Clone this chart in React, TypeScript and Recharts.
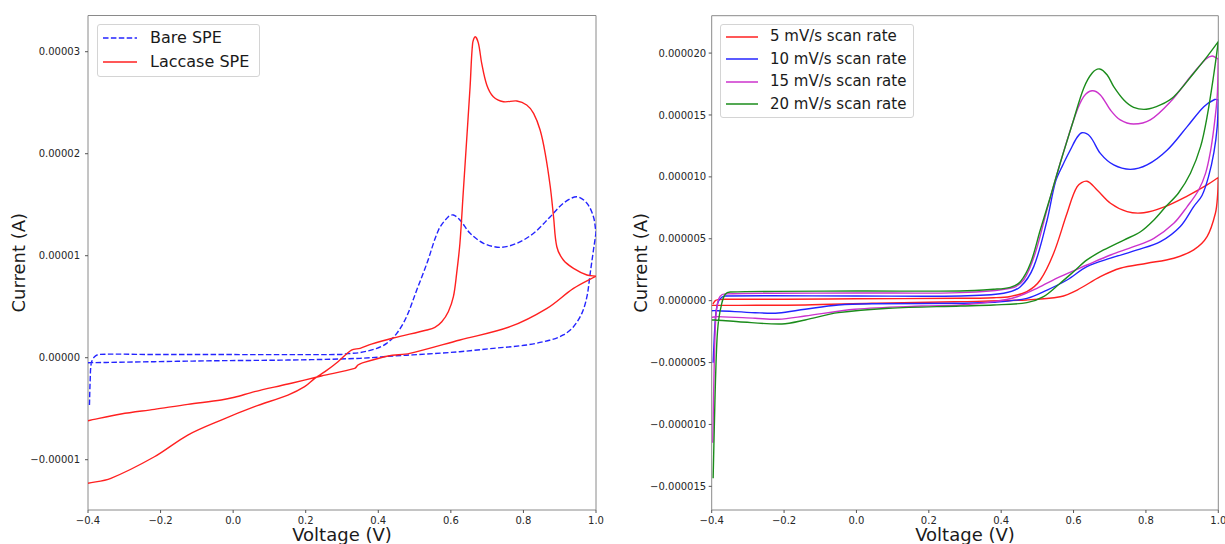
import { LineChart, Line, XAxis, YAxis, Legend, ReferenceArea } from 'recharts';

const FONT = '"DejaVu Sans", Verdana, sans-serif';

const VOLT_TICKS = [-0.4, -0.2, 0, 0.2, 0.4, 0.6, 0.8, 1.0];
const LEFT_CURRENT_TICKS = [-0.00001, 0, 0.00001, 0.00002, 0.00003];
const RIGHT_CURRENT_TICKS = [-0.000015, -0.00001, -0.000005, 0, 0.000005, 0.00001, 0.000015, 0.00002];

const VOLT_DOMAIN = [-0.4, 1.0];
const LEFT_DOMAIN = [-0.00001493, 0.00003355];
const RIGHT_DOMAIN = [-0.00001691, 0.00002302];

// [voltage (V), current (x1e-5 A)]
const bareSpe = [
  [-0.396, -0.464], [-0.394, -0.22], [-0.391, -0.055], [-0.382, 0.01], [-0.368, 0.033],
  [-0.217, 0.031], [-0.033, 0.031], [0.151, 0.03], [0.297, 0.032], [0.316, 0.04],
  [0.35, 0.05], [0.396, 0.092], [0.423, 0.141], [0.451, 0.239], [0.478, 0.402],
  [0.506, 0.664], [0.534, 0.925], [0.566, 1.252], [0.593, 1.382], [0.607, 1.399],
  [0.625, 1.35], [0.653, 1.22], [0.69, 1.122], [0.736, 1.082], [0.782, 1.122],
  [0.828, 1.22], [0.874, 1.382], [0.91, 1.514], [0.947, 1.578], [0.975, 1.514],
  [0.993, 1.382], [1.0, 1.223], [0.993, 1.056], [0.984, 0.827], [0.975, 0.598],
  [0.961, 0.435], [0.938, 0.304], [0.91, 0.223], [0.874, 0.174], [0.809, 0.125],
  [0.717, 0.092], [0.625, 0.059], [0.534, 0.036], [0.441, 0.017], [0.35, -0.006],
  [0.151, -0.023], [-0.033, -0.029], [-0.217, -0.039], [-0.4, -0.049],
];

const laccaseSpe = [
  [-0.4, -1.231], [-0.337, -1.182], [-0.217, -0.971], [-0.125, -0.758], [-0.033, -0.611],
  [0.059, -0.48], [0.151, -0.366], [0.197, -0.284], [0.225, -0.202], [0.253, -0.137],
  [0.289, -0.039], [0.326, 0.075], [0.35, 0.092], [0.381, 0.134], [0.441, 0.193],
  [0.534, 0.272], [0.556, 0.298], [0.575, 0.353], [0.593, 0.451], [0.607, 0.598],
  [0.616, 0.827], [0.625, 1.122], [0.634, 1.612], [0.653, 2.657], [0.66, 3.082],
  [0.667, 3.147], [0.676, 3.082], [0.685, 2.886], [0.699, 2.674], [0.717, 2.559],
  [0.745, 2.51], [0.782, 2.517], [0.809, 2.477], [0.828, 2.396], [0.846, 2.232],
  [0.86, 2.004], [0.874, 1.676], [0.883, 1.382], [0.892, 1.088], [0.91, 0.958],
  [0.938, 0.876], [0.975, 0.811], [1.0, 0.8], [0.938, 0.68], [0.865, 0.484],
  [0.763, 0.304], [0.625, 0.174], [0.487, 0.043], [0.427, 0.017], [0.353, -0.055],
  [0.344, -0.072], [0.335, -0.104], [0.243, -0.179], [0.151, -0.258], [0.059, -0.333],
  [0.004, -0.388], [-0.033, -0.415], [-0.125, -0.457], [-0.217, -0.506], [-0.309, -0.552],
  [-0.4, -0.618],
];

// [voltage (V), current (µA)]
const rate5 = [
  [-0.397, -0.27], [-0.39, 0.0], [-0.382, 0.08], [-0.363, 0.11], [-0.2, 0.12],
  [0.0, 0.15], [0.287, 0.19], [0.38, 0.24], [0.425, 0.34], [0.471, 0.73],
  [0.508, 1.67], [0.545, 3.83], [0.582, 7.06], [0.61, 9.21], [0.637, 9.65],
  [0.665, 8.94], [0.702, 7.87], [0.748, 7.19], [0.794, 7.1], [0.849, 7.55],
  [0.914, 8.45], [0.969, 9.35], [1.0, 9.95], [0.998, 8.5], [0.992, 7.06],
  [0.969, 5.17], [0.932, 4.1], [0.877, 3.43], [0.803, 3.02], [0.729, 2.62],
  [0.674, 1.94], [0.61, 0.86], [0.563, 0.32], [0.471, 0.06], [0.287, -0.08],
  [0.043, -0.21], [-0.142, -0.35], [-0.326, -0.38], [-0.4, -0.38],
];

const rate10 = [
  [-0.396, -5.01], [-0.392, -2.5], [-0.388, -0.89], [-0.382, -0.08], [-0.372, 0.27],
  [-0.363, 0.38], [0.0, 0.38], [0.287, 0.38], [0.407, 0.6], [0.453, 1.13],
  [0.49, 2.75], [0.527, 6.52], [0.55, 9.6], [0.571, 11.0], [0.591, 12.17],
  [0.61, 13.2], [0.624, 13.57], [0.646, 13.25], [0.674, 11.9], [0.711, 10.96],
  [0.757, 10.61], [0.803, 10.96], [0.859, 12.17], [0.914, 14.06], [0.96, 15.67],
  [0.99, 16.25], [1.0, 16.21], [0.997, 14.06], [0.988, 12.0], [0.973, 10.02],
  [0.955, 8.5], [0.932, 7.6], [0.895, 6.0], [0.84, 4.77], [0.776, 4.1],
  [0.702, 3.43], [0.637, 2.75], [0.582, 1.67], [0.527, 0.86], [0.471, 0.19],
  [0.379, -0.13], [0.287, -0.21], [0.043, -0.25], [-0.05, -0.35], [-0.142, -0.69],
  [-0.216, -1.0], [-0.28, -0.97], [-0.382, -0.81], [-0.4, -0.81],
];

const rate15 = [
  [-0.397, -11.47], [-0.393, -5.0], [-0.389, -1.5], [-0.384, -0.2], [-0.377, 0.35],
  [-0.363, 0.55], [0.0, 0.62], [0.287, 0.65], [0.425, 1.0], [0.462, 1.67],
  [0.494, 3.83], [0.527, 7.4], [0.563, 11.1], [0.605, 15.0], [0.628, 16.48],
  [0.651, 16.96], [0.674, 16.62], [0.702, 15.4], [0.729, 14.6], [0.766, 14.27],
  [0.812, 14.6], [0.868, 16.08], [0.923, 18.09], [0.965, 19.5], [0.983, 19.77],
  [1.0, 19.5], [0.997, 16.5], [0.988, 14.0], [0.978, 12.0], [0.965, 10.3],
  [0.945, 8.9], [0.914, 7.6], [0.877, 6.25], [0.822, 5.04], [0.766, 4.36],
  [0.702, 3.69], [0.637, 2.88], [0.563, 1.94], [0.499, 1.0], [0.444, 0.32],
  [0.379, -0.08], [0.287, -0.35], [0.181, -0.43], [-0.004, -0.69], [-0.142, -1.24],
  [-0.216, -1.5], [-0.28, -1.42], [-0.382, -1.29], [-0.4, -1.34],
];

const rate20 = [
  [-0.396, -14.35], [-0.391, -8.0], [-0.386, -3.5], [-0.381, -1.6], [-0.372, -0.2],
  [-0.363, 0.5], [-0.349, 0.7], [0.0, 0.78], [0.287, 0.78], [0.379, 0.92],
  [0.425, 1.08], [0.453, 1.53], [0.481, 3.02], [0.508, 5.71], [0.536, 8.4],
  [0.563, 11.1], [0.6, 14.6], [0.628, 17.16], [0.651, 18.37], [0.672, 18.72],
  [0.693, 18.23], [0.711, 17.29], [0.739, 16.21], [0.766, 15.62], [0.801, 15.46],
  [0.84, 15.81], [0.877, 16.48], [0.932, 18.37], [0.969, 19.71], [1.0, 20.92],
  [0.988, 18.37], [0.969, 14.86], [0.951, 12.44], [0.923, 10.29], [0.89, 8.7],
  [0.855, 7.6], [0.822, 6.52], [0.785, 5.57], [0.739, 4.9], [0.683, 4.1],
  [0.637, 3.29], [0.6, 2.34], [0.563, 1.41], [0.517, 0.32], [0.471, -0.16],
  [0.379, -0.35], [0.287, -0.43], [0.089, -0.61], [-0.05, -0.97], [-0.142, -1.56],
  [-0.206, -1.88], [-0.326, -1.7], [-0.391, -1.56], [-0.4, -1.56],
];

const toPoints = (rows: number[][], unit: number) => rows.map(([v, c]) => ({ v, i: c * unit }));

const LEFT_SERIES = [
  { name: 'Bare SPE', rows: bareSpe, color: '#2424ff', dash: '5.5 2.4' },
  { name: 'Laccase SPE', rows: laccaseSpe, color: '#ff2020', dash: undefined },
];

const RIGHT_SERIES = [
  { name: '5 mV/s scan rate', rows: rate5, color: '#ff2020' },
  { name: '10 mV/s scan rate', rows: rate10, color: '#2424ff' },
  { name: '15 mV/s scan rate', rows: rate15, color: '#cc33cc' },
  { name: '20 mV/s scan rate', rows: rate20, color: '#1b8c1b' },
];

// smooth curve through the points; sharp corner where the scan reverses direction
const scanCurve = (context: any) => {
  let pts: number[][] = [];
  return {
    areaStart() {},
    areaEnd() {},
    lineStart() { pts = []; },
    point(x: number, y: number) { pts.push([+x, +y]); },
    lineEnd() {
      const n = pts.length;
      if (!n) return;
      context.moveTo(pts[0][0], pts[0][1]);
      const corner = (k: number) =>
        k > 0 && k < n - 1 && (pts[k][0] - pts[k - 1][0]) * (pts[k + 1][0] - pts[k][0]) < 0;
      for (let k = 0; k < n - 1; k++) {
        const p1 = pts[k];
        const p2 = pts[k + 1];
        const p0 = k > 0 && !corner(k) ? pts[k - 1] : p1;
        const p3 = k + 2 < n && !corner(k + 1) ? pts[k + 2] : p2;
        const d0 = Math.hypot(p1[0] - p0[0], p1[1] - p0[1]);
        const d1 = Math.hypot(p2[0] - p1[0], p2[1] - p1[1]);
        const d2 = Math.hypot(p3[0] - p2[0], p3[1] - p2[1]);
        const s1 = d0 + d1 > 0 ? d1 / (3 * (d0 + d1)) : 0;
        const s2 = d1 + d2 > 0 ? d1 / (3 * (d1 + d2)) : 0;
        context.bezierCurveTo(
          p1[0] + (p2[0] - p0[0]) * s1, p1[1] + (p2[1] - p0[1]) * s1,
          p2[0] - (p3[0] - p1[0]) * s2, p2[1] - (p3[1] - p1[1]) * s2,
          p2[0], p2[1],
        );
      }
    },
  };
};

const signed = (v: number, digits: number) => (v < 0 ? '\u2212' : '') + Math.abs(v).toFixed(digits);

const tickStyle = { fontSize: 10, fill: '#262626', fontFamily: FONT };
const labelStyle = { fontSize: 18, fill: '#1a1a1a', fontFamily: FONT, textAnchor: 'middle' as const };

interface LegendItem { name: string; color: string; dash?: string }

function LegendBox({ items, width, height, fontSize, rowHeight, sample, gap }: {
  items: LegendItem[]; width: number; height: number; fontSize: number; rowHeight: number; sample: number; gap: number;
}) {
  return (
    <div style={{
      width, height, boxSizing: 'border-box', border: '1px solid #d4d4d4', borderRadius: 3,
      background: 'rgba(255,255,255,0.85)', padding: '1px 0 0 5px', fontFamily: FONT,
    }}>
      {items.map(it => (
        <div key={it.name} style={{ display: 'flex', alignItems: 'center', height: rowHeight }}>
          <svg width={sample} height={4} style={{ marginRight: gap, flex: 'none' }}>
            <line x1={0} y1={2} x2={sample} y2={2} stroke={it.color} strokeWidth={1.5} strokeDasharray={it.dash} />
          </svg>
          <span style={{ fontSize, color: '#1a1a1a', whiteSpace: 'nowrap', lineHeight: 1 }}>{it.name}</span>
        </div>
      ))}
    </div>
  );
}

export default function App() {
  return (
    <div style={{ position: 'absolute', left: 0, top: 0, width: 1225, height: 544, background: '#fff', overflow: 'hidden' }}>
      <div style={{ position: 'absolute', left: 0, top: 0 }}>
        <LineChart width={612} height={544} margin={{ top: 15.5, right: 16, bottom: 4, left: 0 }}>
          <XAxis
            dataKey="v" type="number" domain={VOLT_DOMAIN} ticks={VOLT_TICKS} interval={0} allowDataOverflow
            height={30} axisLine={false} tickSize={3} tickMargin={3.5} tickLine={{ stroke: '#555' }}
            tick={tickStyle} tickFormatter={(v: number) => signed(v, 1)}
            label={{ value: 'Voltage (V)', position: 'insideBottom', offset: -1, style: labelStyle }}
          />
          <YAxis
            type="number" domain={LEFT_DOMAIN} ticks={LEFT_CURRENT_TICKS} interval={0} allowDataOverflow
            width={88} axisLine={false} tickSize={3} tickMargin={5} tickLine={{ stroke: '#555' }}
            tick={tickStyle} tickFormatter={(v: number) => signed(v, 5)}
            label={{ value: 'Current (A)', angle: -90, position: 'insideLeft', offset: 19, style: labelStyle }}
          />
          <ReferenceArea x1={VOLT_DOMAIN[0]} x2={VOLT_DOMAIN[1]} y1={LEFT_DOMAIN[0]} y2={LEFT_DOMAIN[1]}
            fill="none" stroke="#8a8a8a" strokeWidth={1} />
          {LEFT_SERIES.map(s => (
            <Line key={s.name} data={toPoints(s.rows, 1e-5)} dataKey="i" name={s.name} type={scanCurve as any}
              stroke={s.color} strokeWidth={1.4} strokeDasharray={s.dash} dot={false} activeDot={false}
              isAnimationActive={false} />
          ))}
          <Legend layout="vertical" verticalAlign="middle" align="center"
            wrapperStyle={{ left: 97, top: 24, width: 163 }}
            content={() => (
              <LegendBox items={LEFT_SERIES} width={163} height={53} fontSize={16} rowHeight={24} sample={34} gap={13} />
            )}
          />
        </LineChart>
      </div>
      <div style={{ position: 'absolute', left: 612, top: 0 }}>
        <LineChart width={613} height={544} margin={{ top: 15.7, right: 6.7, bottom: 4, left: 0 }}>
          <XAxis
            dataKey="v" type="number" domain={VOLT_DOMAIN} ticks={VOLT_TICKS} interval={0} allowDataOverflow
            height={30} axisLine={false} tickSize={3} tickMargin={3.5} tickLine={{ stroke: '#555' }}
            tick={tickStyle} tickFormatter={(v: number) => signed(v, 1)}
            label={{ value: 'Voltage (V)', position: 'insideBottom', offset: -1, style: labelStyle }}
          />
          <YAxis
            type="number" domain={RIGHT_DOMAIN} ticks={RIGHT_CURRENT_TICKS} interval={0} allowDataOverflow
            width={99.7} axisLine={false} tickSize={3} tickMargin={2.5} tickLine={{ stroke: '#555' }}
            tick={tickStyle} tickFormatter={(v: number) => signed(v, 6)}
            label={{ value: 'Current (A)', angle: -90, position: 'insideLeft', offset: 29, style: labelStyle }}
          />
          <ReferenceArea x1={VOLT_DOMAIN[0]} x2={VOLT_DOMAIN[1]} y1={RIGHT_DOMAIN[0]} y2={RIGHT_DOMAIN[1]}
            fill="none" stroke="#8a8a8a" strokeWidth={1} />
          {RIGHT_SERIES.map(s => (
            <Line key={s.name} data={toPoints(s.rows, 1e-6)} dataKey="i" name={s.name} type={scanCurve as any}
              stroke={s.color} strokeWidth={1.4} dot={false} activeDot={false} isAnimationActive={false} />
          ))}
          <Legend layout="vertical" verticalAlign="middle" align="center"
            wrapperStyle={{ left: 108, top: 23.7, width: 194 }}
            content={() => (
              <LegendBox items={RIGHT_SERIES} width={194} height={94.3} fontSize={15} rowHeight={22.4} sample={32} gap={12} />
            )}
          />
        </LineChart>
      </div>
    </div>
  );
}
